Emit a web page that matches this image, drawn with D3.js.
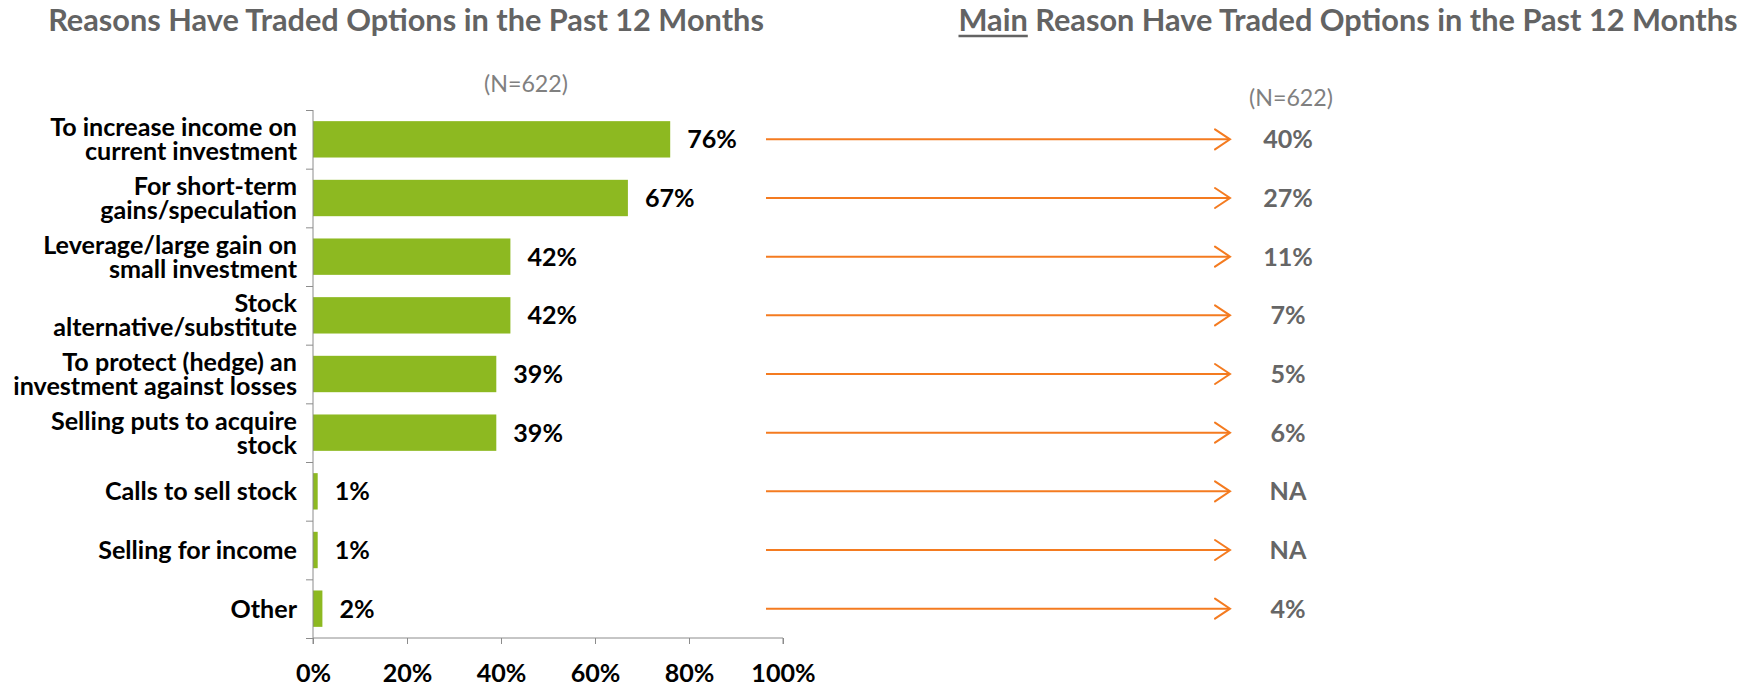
<!DOCTYPE html>
<html>
<head>
<meta charset="utf-8">
<script src="https://cdn.jsdelivr.net/npm/d3@7"></script>
<style>
  html, body { margin: 0; padding: 0; background: #fff; }
  svg { display: block; }
</style>
</head>
<body>
<svg id="chart" width="1749" height="686"></svg>
<script>
// ---------- data ----------
const categories = [
  ["To increase income on", "current investment"],
  ["For short-term", "gains/speculation"],
  ["Leverage/large gain on", "small investment"],
  ["Stock", "alternative/substitute"],
  ["To protect (hedge) an", "investment against losses"],
  ["Selling puts to acquire", "stock"],
  ["Calls to sell stock"],
  ["Selling for income"],
  ["Other"]
];
const reasonValues = [76, 67, 42, 42, 39, 39, 1, 1, 2];
const mainReasonLabels = ["40%", "27%", "11%", "7%", "5%", "6%", "NA", "NA", "4%"];
const xTicks = [0, 20, 40, 60, 80, 100];
const leftTitle = "Reasons Have Traded Options in the Past 12 Months";
const rightTitleUnderlined = "Main";
const rightTitleRest = " Reason Have Traded Options in the Past 12 Months";
const sampleLabel = "(N=622)";

// ---------- style ----------
const FONT = "Lato, 'Open Sans', 'Liberation Sans', sans-serif";
const GREEN = "#8DB921";
const ORANGE = "#F47B20";
const GREY_TITLE = "#636363";
const GREY_VAL = "#666666";
const GREY_N = "#808080";
const AXIS = "#8c8c8c";

const svg = d3.select("#chart");

// measure helper: returns font-size making `text` span `target` px
function fitSize(text, weight, target) {
  const t = svg.append("text").attr("font-family", FONT).attr("font-weight", weight)
    .attr("font-size", 100).text(text);
  const w = t.node().getComputedTextLength();
  t.remove();
  return 100 * target / w;
}

const titleSize = fitSize(leftTitle, "bold", 716);
const labelSize = fitSize(categories[0][0], "bold", 247);
const nSize = fitSize(sampleLabel, "normal", 84);

// ---------- scales ----------
const x = d3.scaleLinear().domain([0, 100]).range([313, 783]);
const y = d3.scaleBand().domain(d3.range(categories.length)).range([110, 638]).paddingInner(0.38).paddingOuter(0.19);

// ---------- titles ----------
svg.append("text")
  .attr("x", 406).attr("y", 31)
  .attr("text-anchor", "middle")
  .attr("font-family", FONT).attr("font-weight", "bold").attr("font-size", titleSize)
  .attr("fill", GREY_TITLE)
  .text(leftTitle);

const rt = svg.append("text")
  .attr("x", 1348).attr("y", 31)
  .attr("text-anchor", "middle")
  .attr("font-family", FONT).attr("font-weight", "bold").attr("font-size", titleSize)
  .attr("fill", GREY_TITLE);
rt.append("tspan").text(rightTitleUnderlined);
rt.append("tspan").text(rightTitleRest);
{
  const node = rt.node();
  const total = node.getComputedTextLength();
  const mainW = node.getSubStringLength(0, rightTitleUnderlined.length);
  const x0 = 1348 - total / 2;
  svg.append("line")
    .attr("x1", x0).attr("x2", x0 + mainW)
    .attr("y1", 36).attr("y2", 36)
    .attr("stroke", GREY_TITLE).attr("stroke-width", 2.5);
}

svg.append("text")
  .attr("x", 526).attr("y", 84).attr("dy", "0.35em")
  .attr("text-anchor", "middle")
  .attr("font-family", FONT).attr("font-size", nSize).attr("fill", GREY_N)
  .text(sampleLabel);
svg.append("text")
  .attr("x", 1291).attr("y", 98).attr("dy", "0.35em")
  .attr("text-anchor", "middle")
  .attr("font-family", FONT).attr("font-size", nSize).attr("fill", GREY_N)
  .text(sampleLabel);

// ---------- bars ----------
svg.append("g").selectAll("rect")
  .data(reasonValues)
  .join("rect")
  .attr("x", x(0))
  .attr("y", (d, i) => y(i))
  .attr("width", d => x(d) - x(0))
  .attr("height", y.bandwidth())
  .attr("fill", GREEN);

// ---------- axes ----------
const yAxisScale = d3.scaleLinear().domain([0, categories.length]).range([110, 638]);
const yAxis = svg.append("g").attr("transform", `translate(${x(0)},0)`)
  .call(d3.axisLeft(yAxisScale).tickValues(d3.range(categories.length + 1)).tickSize(7).tickFormat(""));
yAxis.select(".domain").attr("stroke", AXIS).attr("d", `M0,110V638`);
yAxis.selectAll(".tick line").attr("stroke", AXIS);

const xAxis = svg.append("g").attr("transform", `translate(0,638)`)
  .call(d3.axisBottom(x).tickValues(xTicks).tickSize(6).tickPadding(20).tickFormat(d => d + "%"));
xAxis.select(".domain").attr("stroke", AXIS).attr("d", `M${x(0)},6V0H${x(100)}V6`);
xAxis.selectAll(".tick line").attr("stroke", AXIS);
xAxis.selectAll(".tick text")
  .attr("font-family", FONT).attr("font-weight", "bold").attr("font-size", labelSize)
  .attr("fill", "#000");

// ---------- category labels ----------
const lineH = 24;
svg.append("g").selectAll("text")
  .data(categories)
  .join("text")
  .attr("text-anchor", "end")
  .attr("font-family", FONT).attr("font-weight", "bold").attr("font-size", labelSize)
  .attr("fill", "#000")
  .each(function (lines, i) {
    const cy = y(i) + y.bandwidth() / 2;
    const t = d3.select(this);
    lines.forEach((ln, k) => {
      t.append("tspan")
        .attr("x", 297)
        .attr("y", cy + (k - (lines.length - 1) / 2) * lineH)
        .attr("dy", "0.36em")
        .text(ln);
    });
  });

// ---------- value labels ----------
svg.append("g").selectAll("text")
  .data(reasonValues)
  .join("text")
  .attr("x", d => x(d) + 17)
  .attr("y", (d, i) => y(i) + y.bandwidth() / 2)
  .attr("dy", "0.36em")
  .attr("font-family", FONT).attr("font-weight", "bold").attr("font-size", labelSize)
  .attr("fill", "#000")
  .text(d => d + "%");

// ---------- arrows ----------
const arrowX = d3.scaleLinear().domain([0, 1]).range([766, 1230]);
const arrows = svg.append("g").selectAll("g")
  .data(mainReasonLabels)
  .join("g")
  .attr("transform", (d, i) => `translate(0,${y(i) + y.bandwidth() / 2})`);
arrows.append("line")
  .attr("x1", arrowX(0)).attr("x2", arrowX(1) - 1)
  .attr("y1", 0).attr("y2", 0)
  .attr("stroke", ORANGE).attr("stroke-width", 2);
arrows.append("path")
  .attr("d", `M${arrowX(1) - 15},-10L${arrowX(1)},0L${arrowX(1) - 15},10`)
  .attr("fill", "none").attr("stroke", ORANGE).attr("stroke-width", 2)
  .attr("stroke-linecap", "round").attr("stroke-linejoin", "miter");

arrows.append("text")
  .attr("x", 1288).attr("y", 0).attr("dy", "0.36em")
  .attr("text-anchor", "middle")
  .attr("font-family", FONT).attr("font-weight", "bold").attr("font-size", labelSize)
  .attr("fill", GREY_VAL)
  .text(d => d);
</script>
</body>
</html>
